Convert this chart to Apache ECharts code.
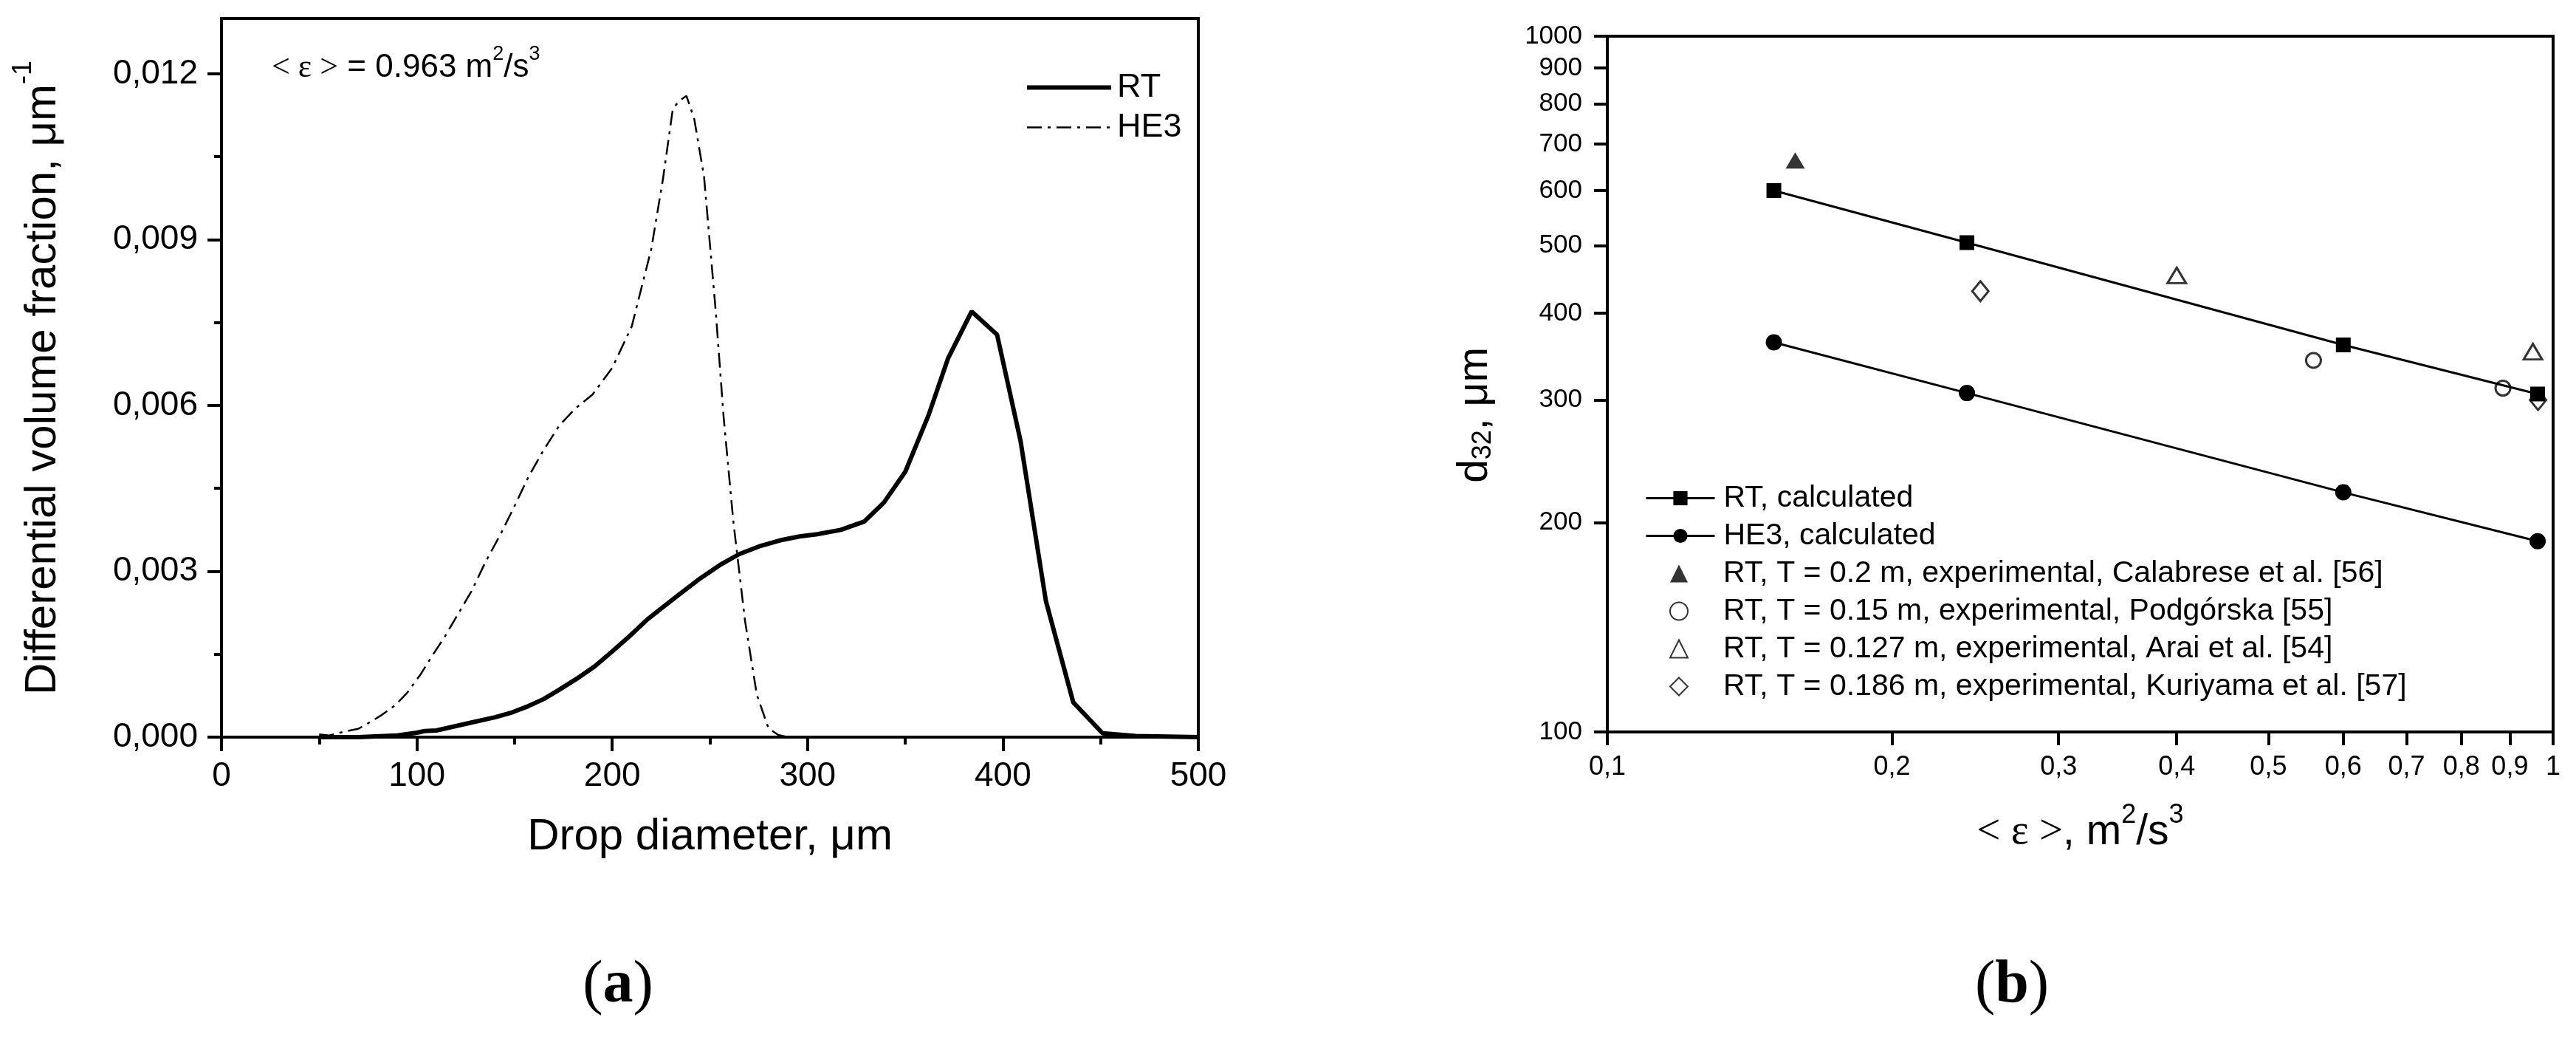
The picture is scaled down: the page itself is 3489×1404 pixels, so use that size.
<!DOCTYPE html>
<html><head><meta charset="utf-8">
<script src="https://cdn.jsdelivr.net/npm/echarts@6/dist/echarts.min.js"></script>
<style>html,body{margin:0;padding:0;background:#fff}#c{width:3489px;height:1404px}</style>
</head><body><div id="c"></div>
<script>
// ---------- panel (a) data ----------
const rtDiameter = [50, 70, 90, 100, 104, 110, 120, 130, 140, 149, 157, 165, 173, 182, 191, 200, 209, 218, 227, 235, 245, 255, 265, 276, 286, 296, 305, 317, 329, 339, 350, 362, 372, 384, 397, 409, 422, 436, 451, 468, 500];
const rtFraction = [0, 0, 0.00003, 0.00008, 0.00011, 0.00012, 0.0002, 0.00028, 0.00036, 0.00045, 0.00056, 0.00069, 0.00086, 0.00106, 0.00128, 0.00155, 0.00183, 0.00213, 0.00238, 0.0026, 0.00287, 0.00311, 0.00331, 0.00346, 0.00356, 0.00363, 0.00367, 0.00375, 0.0039, 0.00424, 0.0048, 0.00583, 0.00686, 0.0077, 0.00728, 0.00536, 0.00246, 0.00063, 0.00007, 0.00002, 0];
const he3Diameter = [50, 55, 63, 70, 75, 82, 89, 95, 102, 108, 114, 121, 128, 135, 143, 150, 157, 165, 173, 181, 190, 200, 210, 220, 226, 231, 234, 238, 242, 247, 253, 257, 262, 268, 274, 280, 285, 290];
const he3Fraction = [0.00005, 0.00003, 0.0001, 0.00015, 0.00025, 0.0004, 0.00058, 0.0008, 0.00114, 0.00148, 0.0018, 0.00222, 0.00264, 0.00316, 0.00368, 0.00418, 0.0047, 0.0052, 0.00564, 0.00594, 0.0062, 0.00668, 0.00743, 0.00883, 0.0101, 0.01136, 0.0115, 0.0116, 0.01118, 0.01014, 0.0077, 0.0058, 0.0039, 0.0021, 0.00077, 0.00016, 0.00004, 0];
const yTicksA = [0, 0.003, 0.006, 0.009, 0.012];
const yMinorTicksA = [0.0015, 0.0045, 0.0075, 0.0105];

// ---------- panel (b) data ----------
const epsCalc = [0.15, 0.24, 0.6, 0.963];
const d32RTCalc = [600, 505, 360, 306];
const d32HE3Calc = [363, 307, 221, 188];
const calabreseEps = [0.158];
const calabreseD32 = [663];
const podgorskaEps = [0.558, 0.885];
const podgorskaD32 = [342, 312];
const araiEps = [0.40, 0.952];
const araiD32 = [453, 352];
const kuriyamaEps = [0.248, 0.964];
const kuriyamaD32 = [430, 300];
const xTicksB = [0.1, 0.2, 0.3, 0.4, 0.5, 0.6, 0.7, 0.8, 0.9, 1];
const yTicksB = [100, 200, 300, 400, 500, 600, 700, 800, 900, 1000];

const legendBNames = ['RT, calculated', 'HE3, calculated',
  'RT, T = 0.2 m, experimental, Calabrese et al. [56]',
  'RT, T = 0.15 m, experimental, Podgórska [55]',
  'RT, T = 0.127 m, experimental, Arai et al. [54]',
  'RT, T = 0.186 m, experimental, Kuriyama et al. [57]'];

const FONT = 'Liberation Sans, Arial, Helvetica, sans-serif';
const SERIF = 'Liberation Serif, Times New Roman, serif';
const zip = (a, b) => a.map((v, i) => [v, b[i]]);
const fmtA = v => Number(v).toFixed(3).replace('.', ',');
const fmtB = v => String(Number(Number(v).toPrecision(6))).replace('.', ',');
const fmtInt = v => String(Math.round(Number(v)));
const blk = '#000';
const axisLine = {show: true, onZero: false, lineStyle: {color: blk, width: 4}};
const tickStyle = {color: blk, width: 4};

const chart = echarts.init(document.getElementById('c'), null, {width: 3489, height: 1404});

const option = {
  animation: false,
  backgroundColor: '#fff',
  grid: [
    {left: 300, top: 25, width: 1323, height: 973, show: true, borderColor: blk, borderWidth: 4, containLabel: false},
    {left: 2177, top: 49, width: 1281, height: 942, show: true, borderColor: blk, borderWidth: 4, containLabel: false}
  ],
  xAxis: [
    {gridIndex: 0, type: 'value', min: 0, max: 500, interval: 100, axisLine,
      axisTick: {length: 19, lineStyle: tickStyle},
      minorTick: {show: true, splitNumber: 2, length: 10, lineStyle: tickStyle},
      splitLine: {show: false},
      axisLabel: {fontSize: 46, fontFamily: FONT, color: blk, margin: 30},
      name: 'Drop diameter, μm', nameLocation: 'middle', nameGap: 105,
      nameTextStyle: {fontSize: 60, fontFamily: FONT, color: blk}},
    {gridIndex: 1, type: 'log', logBase: 10, min: 0.1, max: 1, axisLine,
      axisTick: {customValues: xTicksB, length: 18, lineStyle: tickStyle},
      minorTick: {show: false}, splitLine: {show: false},
      axisLabel: {customValues: xTicksB, formatter: fmtB, fontSize: 36, fontFamily: FONT, color: blk, margin: 30},
      name: '{e|< ε >}{n|, m}{s|2}{n|/s}{s|3}', nameLocation: 'middle', nameGap: 95,
      nameTextStyle: {rich: {
        n: {fontSize: 57, fontFamily: FONT, color: blk, lineHeight: 70, verticalAlign: 'bottom'},
        e: {fontSize: 57, fontFamily: SERIF, color: blk, lineHeight: 70, verticalAlign: 'bottom'},
        s: {fontSize: 36, fontFamily: FONT, color: blk, lineHeight: 36, verticalAlign: 'top'}
      }}}
  ],
  yAxis: [
    {gridIndex: 0, type: 'value', min: 0, max: 0.013, axisLine,
      axisTick: {customValues: yTicksA, length: 19, lineStyle: tickStyle},
      splitLine: {show: false},
      axisLabel: {customValues: yTicksA, formatter: fmtA, fontSize: 46, fontFamily: FONT, color: blk, margin: 32},
      name: '{n|Differential volume fraction, μm}{s|-1}', nameLocation: 'middle', nameGap: 212,
      nameTextStyle: {rich: {
        n: {fontSize: 60, fontFamily: FONT, color: blk, lineHeight: 74, verticalAlign: 'bottom'},
        s: {fontSize: 36, fontFamily: FONT, color: blk, lineHeight: 36, verticalAlign: 'top'}
      }}},
    {gridIndex: 0, type: 'value', min: 0, max: 0.013, position: 'left',
      axisLine: {show: false}, axisLabel: {show: false}, splitLine: {show: false},
      axisTick: {show: true, customValues: yMinorTicksA, length: 10, lineStyle: tickStyle}},
    {gridIndex: 1, type: 'log', logBase: 10, min: 100, max: 1000, axisLine,
      axisTick: {customValues: yTicksB, length: 18, lineStyle: tickStyle},
      minorTick: {show: false}, splitLine: {show: false},
      axisLabel: {customValues: yTicksB, formatter: fmtInt, fontSize: 35, fontFamily: FONT, color: blk, margin: 34},
      name: '{n|d}{b|32}{n|, μm}', nameLocation: 'middle', nameGap: 150,
      nameTextStyle: {padding: [0, 84, 0, 0], rich: {
        n: {fontSize: 57, fontFamily: FONT, color: blk, lineHeight: 57, verticalAlign: 'top'},
        b: {fontSize: 36, fontFamily: FONT, color: blk, lineHeight: 36, verticalAlign: 'bottom'}
      }}}
  ],
  legend: [
    {data: [
        {name: 'RT', itemStyle: {opacity: 0}, lineStyle: {width: 6}},
        {name: 'HE3', itemStyle: {opacity: 0}, lineStyle: {width: 2.5}}],
      orient: 'vertical', left: 1383, top: 91, itemWidth: 114, itemHeight: 20, itemGap: 9,
      textStyle: {fontSize: 45, fontFamily: FONT, color: blk, lineHeight: 45, padding: [0, 0, 0, 3]}},
    {data: [
        {name: legendBNames[0], lineStyle: {width: 3}},
        {name: legendBNames[1], lineStyle: {width: 3}}],
      orient: 'vertical', left: 2223, top: 649, itemWidth: 93, itemHeight: 24, itemGap: 10,
      textStyle: {fontSize: 41, fontFamily: FONT, color: blk, lineHeight: 41, padding: [0, 0, 0, 7]}},
    {data: legendBNames.slice(2), orient: 'vertical', left: 2256, top: 751, itemWidth: 24, itemHeight: 24, itemGap: 10,
      symbolKeepAspect: true,
      textStyle: {fontSize: 41, fontFamily: FONT, color: blk, lineHeight: 41, padding: [0, 0, 0, 43]}}
  ],
  graphic: [
    {type: 'text', x: 368, y: 87, style: {
      text: '{e|< ε >}{n| = 0.963 m}{s|2}{n|/s}{s|3}', align: 'left', verticalAlign: 'middle',
      rich: {
        n: {fontSize: 44, fontFamily: FONT, fill: blk, lineHeight: 54, verticalAlign: 'bottom'},
        e: {fontSize: 44, fontFamily: SERIF, fill: blk, lineHeight: 54, verticalAlign: 'bottom'},
        s: {fontSize: 27, fontFamily: FONT, fill: blk, lineHeight: 27, verticalAlign: 'top'}
      }}},
    {type: 'text', x: 837, y: 1335, style: {
      text: '{p|(}{b|a}{p|)}', align: 'center', verticalAlign: 'middle',
      rich: {
        p: {fontSize: 82, fontFamily: SERIF, fill: blk},
        b: {fontSize: 82, fontFamily: SERIF, fontWeight: 'bold', fill: blk}
      }}},
    {type: 'text', x: 2725, y: 1335, style: {
      text: '{p|(}{b|b}{p|)}', align: 'center', verticalAlign: 'middle',
      rich: {
        p: {fontSize: 82, fontFamily: SERIF, fill: blk},
        b: {fontSize: 82, fontFamily: SERIF, fontWeight: 'bold', fill: blk}
      }}}
  ],
  series: [
    {name: 'RT', type: 'line', xAxisIndex: 0, yAxisIndex: 0, data: zip(rtDiameter, rtFraction),
      symbol: 'none', lineStyle: {color: blk, width: 6}, itemStyle: {color: blk}},
    {name: 'HE3', type: 'line', xAxisIndex: 0, yAxisIndex: 0, data: zip(he3Diameter, he3Fraction),
      symbol: 'none', lineStyle: {color: blk, width: 2.5, type: [20, 8, 4, 8]}, itemStyle: {color: blk}},
    {name: legendBNames[0], type: 'line', xAxisIndex: 1, yAxisIndex: 2, data: zip(epsCalc, d32RTCalc),
      symbol: 'rect', symbolSize: 20, lineStyle: {color: blk, width: 3}, itemStyle: {color: blk}},
    {name: legendBNames[1], type: 'line', xAxisIndex: 1, yAxisIndex: 2, data: zip(epsCalc, d32HE3Calc),
      symbol: 'circle', symbolSize: 22, lineStyle: {color: blk, width: 3}, itemStyle: {color: blk}},
    {name: legendBNames[2], type: 'scatter', xAxisIndex: 1, yAxisIndex: 2, data: zip(calabreseEps, calabreseD32),
      symbol: 'triangle', symbolSize: [26, 22], itemStyle: {color: blk}},
    {name: legendBNames[3], type: 'scatter', xAxisIndex: 1, yAxisIndex: 2, data: zip(podgorskaEps, podgorskaD32),
      symbol: 'circle', symbolSize: 20, itemStyle: {color: '#fff', borderColor: blk, borderWidth: 3}},
    {name: legendBNames[4], type: 'scatter', xAxisIndex: 1, yAxisIndex: 2, data: zip(araiEps, araiD32),
      symbol: 'triangle', symbolSize: [25, 21], itemStyle: {color: '#fff', borderColor: blk, borderWidth: 3}},
    {name: legendBNames[5], type: 'scatter', xAxisIndex: 1, yAxisIndex: 2, data: zip(kuriyamaEps, kuriyamaD32),
      symbol: 'diamond', symbolSize: [22, 27], itemStyle: {color: '#fff', borderColor: blk, borderWidth: 3}}
  ]
};
chart.setOption(option);
</script>
</body></html>
